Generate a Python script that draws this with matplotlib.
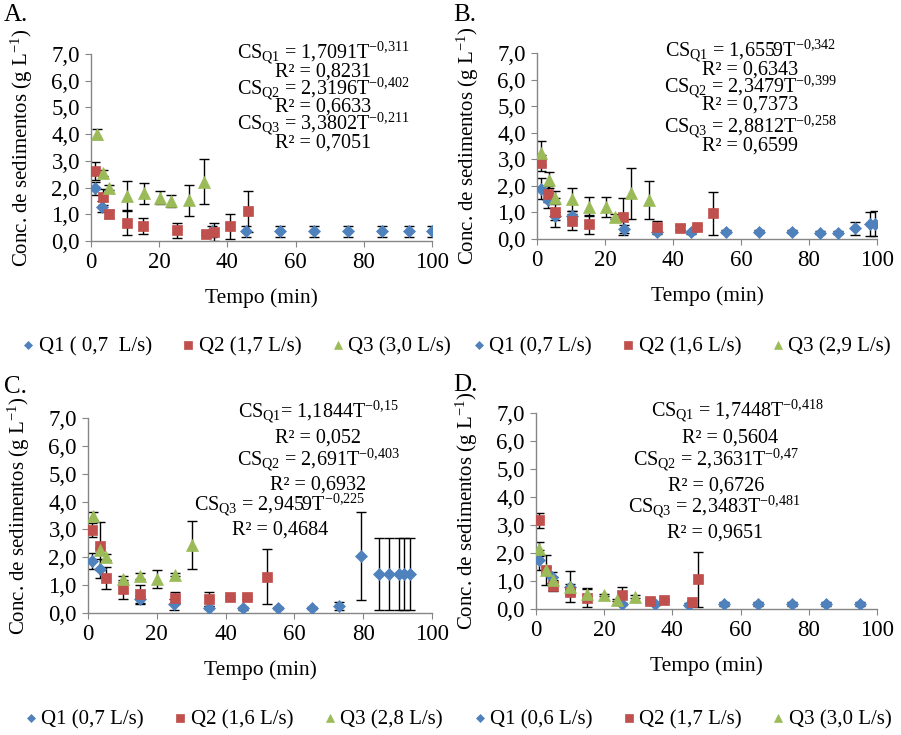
import matplotlib
matplotlib.use("Agg")
import matplotlib.pyplot as plt

plt.rcParams['font.family'] = ['Liberation Serif', 'DejaVu Serif']
plt.rcParams['mathtext.fontset'] = 'custom'
plt.rcParams['mathtext.rm'] = 'Liberation Serif'
plt.rcParams['mathtext.it'] = 'Liberation Serif:italic'
plt.rcParams['mathtext.bf'] = 'Liberation Serif:bold'

W, H = 901, 735
BLUE, RED, GREEN = '#4F81BD', '#C0504D', '#9BBB59'
AXIS_GRAY = '#868686'

# --- A ---
tA_q1 = [1.3, 3.1, 35.6, 45.4, 55.4, 65.5, 75.3, 85.2, 93.3, 100.0]
cA_q1 = [1.97, 1.28, 0.36, 0.36, 0.36, 0.36, 0.36, 0.36, 0.36, 0.36]
eA_q1 = [0.25, 0.2, 0.2, 0.2, 0.2, 0.2, 0.2, 0.2, 0.2, 0.2]
tA_q2 = [1.3, 3.4, 5.4, 10.6, 15.2, 25.3, 33.7, 36.0, 40.7, 45.9]
cA_q2 = [2.62, 1.63, 1.02, 0.68, 0.55, 0.40, 0.27, 0.34, 0.55, 1.12]
eA_q2 = [0.35, 0.3, 0.15, 0.44, 0.3, 0.29, 0.05, 0.33, 0.47, 0.77]
tA_q3 = [1.7, 3.4, 5.4, 10.6, 15.5, 20.3, 23.5, 28.6, 33.1]
cA_q3 = [4.0, 2.55, 2.0, 1.7, 1.78, 1.62, 1.5, 1.52, 2.22]
eA_q3 = [0.18, 0.1, 0.1, 0.55, 0.38, 0.24, 0.22, 0.59, 0.85]

# --- B ---
tB_q1 = [1.3, 3.2, 5.3, 10.3, 25.5, 35.3, 45.3, 55.5, 65.3, 74.9, 83.1, 88.5, 93.6, 97.8, 99.5]
cB_q1 = [1.9, 1.45, 0.88, 0.85, 0.37, 0.25, 0.25, 0.28, 0.28, 0.28, 0.24, 0.24, 0.4, 0.58, 0.58]
eB_q1 = [0.4, 0.3, 0.15, 0.1, 0.15, 0.05, 0.05, 0.05, 0.05, 0.05, 0.05, 0.05, 0.25, 0.45, 0.48]
tB_q2 = [1.3, 3.2, 5.2, 10.3, 15.3, 25.4, 35.3, 42.0, 47.2, 51.8]
cB_q2 = [2.86, 1.69, 1.0, 0.69, 0.55, 0.84, 0.46, 0.43, 0.44, 0.96]
eB_q2 = [0.3, 0.3, 0.56, 0.36, 0.35, 0.69, 0.2, 0.1, 0.1, 0.81]
tB_q3 = [1.3, 3.4, 5.4, 10.3, 15.3, 20.4, 22.8, 27.7, 32.8]
cB_q3 = [3.25, 2.21, 1.56, 1.49, 1.21, 1.19, 0.84, 1.72, 1.48]
eB_q3 = [0.45, 0.3, 0.25, 0.42, 0.36, 0.38, 0.1, 0.95, 0.72]

# --- C ---
tC_q1 = [1.2, 3.4, 15.1, 25.0, 35.3, 45.1, 55.1, 65.0, 73.0, 79.5, 84.6, 87.5, 90.4, 92.0, 93.7]
cC_q1 = [1.87, 1.59, 0.49, 0.31, 0.19, 0.17, 0.18, 0.18, 0.25, 2.04, 1.39, 1.39, 1.39, 1.41, 1.39]
eC_q1 = [0.3, 0.35, 0.12, 0.2, 0.05, 0.05, 0.05, 0.05, 0.15, 1.57, 1.3, 1.3, 1.3, 1.3, 1.3]
tC_q2 = [1.25, 3.4, 5.1, 10.3, 15.1, 25.3, 35.3, 41.3, 46.1, 51.9]
cC_q2 = [2.97, 2.4, 1.26, 0.85, 0.67, 0.55, 0.5, 0.57, 0.57, 1.3]
eC_q2 = [0.25, 0.85, 0.4, 0.35, 0.35, 0.2, 0.25, 0.05, 0.05, 0.99]
tC_q3 = [1.4, 3.4, 5.3, 10.3, 15.1, 20.2, 25.3, 30.2]
cC_q3 = [3.48, 2.25, 2.01, 1.23, 1.33, 1.22, 1.38, 2.45]
eC_q3 = [0.15, 0.1, 0.1, 0.1, 0.1, 0.31, 0.05, 0.87]

# --- D ---
tD_q1 = [0.8, 4.7, 9.9, 25.2, 34.9, 45.0, 55.1, 65.2, 75.1, 85.0, 94.9]
cD_q1 = [1.76, 1.13, 0.8, 0.18, 0.18, 0.15, 0.18, 0.18, 0.18, 0.18, 0.18]
eD_q1 = [0.35, 0.2, 0.1, 0.05, 0.05, 0.05, 0.07, 0.07, 0.07, 0.07, 0.07]
tD_q2 = [0.8, 3.0, 5.0, 9.9, 15.1, 25.2, 33.5, 37.4, 45.7, 47.4]
cD_q2 = [3.17, 1.39, 0.83, 0.6, 0.4, 0.5, 0.27, 0.32, 0.24, 1.06]
eD_q2 = [0.26, 0.55, 0.2, 0.1, 0.33, 0.3, 0.05, 0.05, 0.05, 0.98]
tD_q3 = [0.8, 3.0, 5.0, 9.9, 15.1, 20.0, 23.9, 28.9]
cD_q3 = [2.15, 1.39, 1.05, 0.8, 0.54, 0.5, 0.32, 0.44]
eD_q3 = [0.24, 0.1, 0.1, 0.56, 0.2, 0.05, 0.05, 0.05]

legend_A = ['Q1 ( 0,7  L/s)', 'Q2 (1,7 L/s)', 'Q3 (3,0 L/s)']
legend_B = ['Q1 (0,7 L/s)', 'Q2 (1,6 L/s)', 'Q3 (2,9 L/s)']
legend_C = ['Q1 (0,7 L/s)', 'Q2 (1,6 L/s)', 'Q3 (2,8 L/s)']
legend_D = ['Q1 (0,6 L/s)', 'Q2 (1,7 L/s)', 'Q3 (3,0 L/s)']

eq_A = [r'CS$_{\mathrm{Q1}}$ = 1,7091T$^{\mathrm{-0{,}311}}$', 'R² = 0,8231',
        r'CS$_{\mathrm{Q2}}$ = 2,3196T$^{\mathrm{-0{,}402}}$', 'R² = 0,6633',
        r'CS$_{\mathrm{Q3}}$ = 3,3802T$^{\mathrm{-0{,}211}}$', 'R² = 0,7051']
eq_B = [r'CS$_{\mathrm{Q1}}$ = 1,6559T$^{\mathrm{-0{,}342}}$', 'R² = 0,6343',
        r'CS$_{\mathrm{Q2}}$ = 2,3479T$^{\mathrm{-0{,}399}}$', 'R² = 0,7373',
        r'CS$_{\mathrm{Q3}}$ = 2,8812T$^{\mathrm{-0{,}258}}$', 'R² = 0,6599']
eq_C = [r'CS$_{\mathrm{Q1}}$= 1,1844T$^{\mathrm{-0{,}15}}$', 'R² = 0,052',
        r'CS$_{\mathrm{Q2}}$ = 2,691T$^{\mathrm{-0{,}403}}$', 'R² = 0,6932',
        r'CS$_{\mathrm{Q3}}$ = 2,9459T$^{\mathrm{-0{,}225}}$', 'R² = 0,4684']
eq_D = [r'CS$_{\mathrm{Q1}}$ = 1,7448T$^{\mathrm{-0{,}418}}$', 'R² = 0,5604',
        r'CS$_{\mathrm{Q2}}$ = 2,3631T$^{\mathrm{-0{,}47}}$', 'R² = 0,6726',
        r'CS$_{\mathrm{Q3}}$ = 2,3483T$^{\mathrm{-0{,}481}}$', 'R² = 0,9651']

YTICKS = [0, 1, 2, 3, 4, 5, 6, 7]
XTICKS = [0, 20, 40, 60, 80, 100]
FS = 15          # titles, legend
TICK_FS = 16.5   # tick labels
EQ_FS = 14.5     # fitted equations

fig = plt.figure(figsize=(W / 100, H / 100), dpi=100)


def box(left, top, right, bottom):
    """pixel box -> figure fraction rect"""
    return [left / W, 1 - bottom / H, (right - left) / W, (bottom - top) / H]


def panel(rect, series, eqs, eq_x, eq_y, labels, leg_center, letter, letter_xy):
    ax = fig.add_axes(rect)
    styles = [(BLUE, 'D', 5.8), (RED, 's', 7.8), (GREEN, '^', 8.6)]
    for t, c, e in series:
        ax.errorbar(t, c, yerr=e, fmt='none', ecolor='black', elinewidth=1.0,
                    capsize=3.5, capthick=1.0, zorder=2)
    handles = []
    for (t, c, e), (col, mk, ms) in zip(series, styles):
        h, = ax.plot(t, c, ls='none', marker=mk, ms=ms, color=col,
                     mec=col, mew=0.5, zorder=3)
        handles.append(h)

    ax.set_xlim(0, 100)
    ax.set_ylim(0, 7)
    ax.set_xticks(XTICKS)
    ax.set_yticks(YTICKS)
    ax.set_yticklabels([f'{v:.1f}'.replace('.', ',') for v in YTICKS])
    for s in ('top', 'right'):
        ax.spines[s].set_visible(False)
    for s in ('left', 'bottom'):
        ax.spines[s].set_color(AXIS_GRAY)
        ax.spines[s].set_linewidth(1.0)
    ax.tick_params(direction='out', length=4, color=AXIS_GRAY,
                   labelsize=TICK_FS, pad=4)
    ax.set_xlabel('Tempo (min)', fontsize=FS + 0.5, labelpad=11)
    ax.set_ylabel(r'Conc. de sedimentos (g L$^{-1}$)', fontsize=FS, labelpad=12)
    ax.patch.set_alpha(0)

    for txt, x, y in zip(eqs, eq_x, eq_y):
        fig.text(x / W, 1 - y / H, txt, ha='center', va='baseline', fontsize=EQ_FS)

    fig.legend(handles, labels, loc='center', ncol=3, frameon=False,
               bbox_to_anchor=(leg_center[0] / W, 1 - leg_center[1] / H),
               fontsize=FS, markerscale=0.65, handlelength=0.7,
               handletextpad=0.15, columnspacing=1.4, borderaxespad=0)
    fig.text(letter_xy[0] / W, 1 - letter_xy[1] / H, letter, fontsize=FS + 3,
             ha='left', va='center')
    return ax


panel(box(91, 54, 432, 241),
      [(tA_q1, cA_q1, eA_q1), (tA_q2, cA_q2, eA_q2), (tA_q3, cA_q3, eA_q3)],
      eq_A, [323] * 6, [59, 77, 95, 112, 130, 148],
      legend_A, (236, 347), 'A.', (4, 15))
panel(box(537, 53, 877, 239),
      [(tB_q1, cB_q1, eB_q1), (tB_q2, cB_q2, eB_q2), (tB_q3, cB_q3, eB_q3)],
      eq_B, [750] * 6, [57, 75, 93, 110, 133, 151],
      legend_B, (681, 347), 'B.', (453, 15))
panel(box(88, 418, 432, 613),
      [(tC_q1, cC_q1, eC_q1), (tC_q2, cC_q2, eC_q2), (tC_q3, cC_q3, eC_q3)],
      eq_C, [318, 318, 318, 318, 280, 280], [418, 443, 466, 490, 511, 535],
      legend_C, (233, 720), 'C.', (4, 387))
panel(box(536, 413, 877, 609),
      [(tD_q1, cD_q1, eD_q1), (tD_q2, cD_q2, eD_q2), (tD_q3, cD_q3, eD_q3)],
      eq_D, [737, 730, 716, 716, 714, 715], [417, 443, 466, 491, 513, 538],
      legend_D, (682, 720), 'D.', (453, 385))

fig.savefig('out.png', dpi=100)
